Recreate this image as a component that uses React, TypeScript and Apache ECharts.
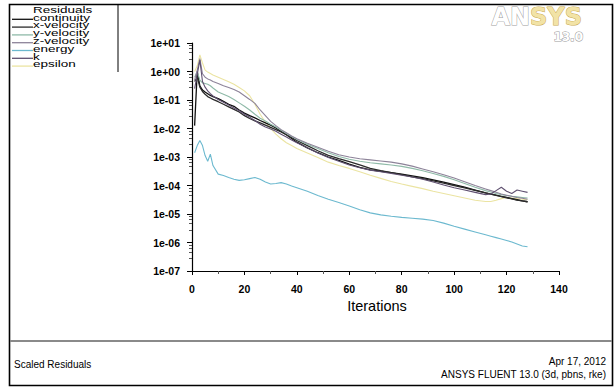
import React, { useEffect, useRef } from "react";
import * as echarts from "echarts";

// Iteration numbers at which residuals were read
const iterations = [1, 2, 3, 4, 5, 6, 7, 8, 10, 12, 14, 16, 18, 20, 22, 24, 26, 28, 30, 32, 34, 36, 38, 40, 44, 48, 52, 56, 60, 64, 68, 72, 76, 80, 84, 88, 92, 96, 100, 104, 108, 112, 114, 116, 118, 120, 122, 124, 126, 128];

// Residuals (log10 of the residual)
const continuityExp = [-1.9, 0.0, -0.5, -0.65, -0.72, -0.78, -0.84, -0.88, -0.95, -1.05, -1.15, -1.22, -1.35, -1.46, -1.55, -1.63, -1.72, -1.8, -1.88, -1.98, -2.1, -2.22, -2.35, -2.48, -2.68, -2.85, -3.0, -3.12, -3.25, -3.36, -3.45, -3.5, -3.55, -3.6, -3.66, -3.72, -3.8, -3.88, -3.97, -4.06, -4.16, -4.26, -4.3, -4.34, -4.38, -4.42, -4.46, -4.5, -4.54, -4.57];
const xVelocityExp = [-0.35, -0.2, -0.55, -0.7, -0.8, -0.88, -0.93, -0.98, -1.06, -1.15, -1.24, -1.33, -1.42, -1.55, -1.65, -1.73, -1.8, -1.88, -1.96, -2.04, -2.12, -2.22, -2.32, -2.42, -2.6, -2.78, -2.94, -3.06, -3.16, -3.28, -3.4, -3.48, -3.55, -3.62, -3.7, -3.76, -3.84, -3.92, -4.0, -4.08, -4.17, -4.26, -4.3, -4.35, -4.39, -4.43, -4.47, -4.51, -4.54, -4.57];
const yVelocityExp = [-0.2, 0.0, -0.3, -0.4, -0.42, -0.45, -0.5, -0.58, -0.72, -0.8, -0.88, -0.98, -1.1, -1.22, -1.35, -1.5, -1.64, -1.74, -1.85, -1.95, -2.06, -2.17, -2.28, -2.38, -2.55, -2.7, -2.85, -2.98, -3.08, -3.15, -3.2, -3.24, -3.28, -3.33, -3.4, -3.48, -3.58, -3.68, -3.8, -3.93, -4.06, -4.18, -4.23, -4.28, -4.32, -4.35, -4.38, -4.4, -4.42, -4.44];
const zVelocityExp = [-0.3, 0.05, 0.45, -0.08, -0.2, -0.26, -0.3, -0.35, -0.42, -0.5, -0.56, -0.63, -0.72, -0.85, -0.98, -1.12, -1.35, -1.55, -1.75, -1.9, -2.04, -2.15, -2.26, -2.36, -2.52, -2.66, -2.8, -2.92, -3.0, -3.06, -3.1, -3.14, -3.18, -3.24, -3.32, -3.42, -3.52, -3.62, -3.74, -3.87, -4.0, -4.12, -4.18, -4.24, -4.3, -4.34, -4.38, -4.42, -4.45, -4.48];
const energyExp = [-2.85, -2.6, -2.42, -2.6, -2.95, -3.15, -2.9, -3.3, -3.6, -3.65, -3.72, -3.78, -3.82, -3.8, -3.76, -3.72, -3.78, -3.88, -3.95, -3.93, -3.9, -3.95, -4.02, -4.08, -4.2, -4.35, -4.48, -4.6, -4.72, -4.85, -4.96, -5.03, -5.08, -5.12, -5.15, -5.18, -5.23, -5.32, -5.43, -5.53, -5.63, -5.73, -5.78, -5.83, -5.88, -5.93, -5.98, -6.05, -6.12, -6.15];
const kExp = [-0.6, -0.1, 0.4, -0.35, -0.55, -0.68, -0.78, -0.86, -0.98, -1.08, -1.18, -1.28, -1.38, -1.5, -1.6, -1.72, -1.85, -1.95, -2.02, -2.1, -2.2, -2.3, -2.4, -2.5, -2.68, -2.86, -3.02, -3.15, -3.28, -3.38, -3.46, -3.52, -3.58, -3.64, -3.7, -3.78, -3.88, -3.98, -4.08, -4.16, -4.24, -4.32, -4.3, -4.18, -4.06, -4.2, -4.28, -4.16, -4.2, -4.24];
const epsilonExp = [0.0, 0.2, 0.58, 0.3, 0.05, -0.02, -0.07, -0.12, -0.2, -0.28, -0.36, -0.45, -0.56, -0.68, -0.85, -1.15, -1.5, -1.78, -2.0, -2.2, -2.36, -2.5, -2.6, -2.7, -2.86, -3.02, -3.18, -3.3, -3.4, -3.52, -3.64, -3.75, -3.86, -3.95, -4.03, -4.11, -4.2, -4.28, -4.36, -4.44, -4.52, -4.56, -4.56, -4.52, -4.46, -4.42, -4.44, -4.46, -4.48, -4.5];

const seriesNames = ["continuity", "x-velocity", "y-velocity", "z-velocity", "energy", "k", "epsilon"];
const seriesExps = [continuityExp, xVelocityExp, yVelocityExp, zVelocityExp, energyExp, kExp, epsilonExp];
const seriesColors = ["#111111", "#2b2b2b", "#8fbaa8", "#8d8399", "#6cb9cf", "#5f5070", "#ebe4a2"];

const xTicks = [0, 20, 40, 60, 80, 100, 120, 140];

const FONT = "'Liberation Sans', Arial, sans-serif";
const LOGO_FONT = "'DejaVu Sans', sans-serif";

export default function App() {
  const ref = useRef<HTMLDivElement>(null);
  useEffect(() => {
    if (!ref.current) return;
    const chart = echarts.init(ref.current, null, { renderer: "svg" });

    const legendStartY = 9;
    const legendStep = 7.8;
    const legendGraphics: any[] = [
      {
        type: "text",
        x: 33,
        y: legendStartY,
        scaleY: 0.72,
        style: { text: "Residuals", fontSize: 13.5, fontFamily: FONT, fill: "#000", verticalAlign: "middle" },
      },
    ];
    seriesNames.forEach((name, i) => {
      const yy = legendStartY + legendStep * (i + 1);
      legendGraphics.push({
        type: "line",
        shape: { x1: 12, y1: yy + 2.5, x2: 33, y2: yy + 2.5 },
        style: { stroke: seriesColors[i], lineWidth: 1.3 },
      });
      legendGraphics.push({
        type: "text",
        x: 33,
        y: yy,
        scaleY: 0.72,
        style: { text: name, fontSize: 13.5, fontFamily: FONT, fill: "#000", verticalAlign: "middle" },
      });
    });

    const option: any = {
      animation: false,
      backgroundColor: "#ffffff",
      grid: { left: 192, top: 43, width: 367, height: 228, containLabel: false },
      xAxis: {
        type: "value",
        min: xTicks[0],
        max: xTicks[xTicks.length - 1],
        interval: 20,
        axisLine: { show: true, lineStyle: { color: "#000", width: 1.2 } },
        axisTick: { show: true, length: 4, lineStyle: { color: "#000" } },
        minorTick: { show: true, splitNumber: 2, length: 3, lineStyle: { color: "#555" } },
        splitLine: { show: false },
        axisLabel: { fontSize: 10.5, fontFamily: FONT, color: "#000", margin: 12, fontWeight: "bold" },
      },
      yAxis: {
        type: "log",
        logBase: 10,
        min: 1e-7,
        max: 10,
        splitNumber: 8,
        axisLine: { show: true, lineStyle: { color: "#000", width: 1.2 } },
        axisTick: { show: true, length: 5, lineStyle: { color: "#000" } },
        minorTick: { show: true, splitNumber: 5, length: 3, lineStyle: { color: "#555" } },
        splitLine: { show: false },
        axisLabel: {
          fontSize: 10.5,
          fontFamily: FONT,
          color: "#000",
          margin: 12,
          fontWeight: "bold",
          formatter: (v: number) => {
            const e = Math.round(Math.log10(v));
            const a = Math.abs(e);
            return "1e" + (e >= 0 ? "+" : "-") + (a < 10 ? "0" : "") + a;
          },
        },
      },
      series: seriesNames.map((name, i) => ({
        name,
        type: "line",
        showSymbol: false,
        symbol: "none",
        z: name === "epsilon" || name === "energy" ? 1 : 2,
        lineStyle: { color: seriesColors[i], width: i < 2 ? 1.3 : 1.1 },
        data: iterations.map((it, j) => [it, Math.pow(10, seriesExps[i][j])]),
      })),
      graphic: [
        // outer frame
        {
          type: "rect",
          shape: { x: 9.5, y: 4.5, width: 603, height: 381 },
          style: { fill: "none", stroke: "#000", lineWidth: 1.6 },
          silent: true,
        },
        // legend box right border
        {
          type: "line",
          shape: { x1: 118, y1: 5, x2: 118, y2: 72 },
          style: { stroke: "#000", lineWidth: 1 },
        },
        ...legendGraphics,
        // ANSYS logo
        {
          type: "text",
          x: 582,
          y: 5,
          style: {
            text: "{a|AN}{b|SYS}",
            align: "right",
            rich: {
              a: { fontSize: 24, fontWeight: "bold", fontFamily: LOGO_FONT, fill: "#ffffff", stroke: "#a0a0a0", lineWidth: 1 },
              b: { fontSize: 24, fontWeight: "bold", fontFamily: LOGO_FONT, fill: "#f2e3a6", stroke: "#c8a850", lineWidth: 1 },
            },
          },
        },
        {
          type: "text",
          x: 583,
          y: 31,
          style: {
            text: "13.0",
            align: "right",
            fontFamily: LOGO_FONT,
            fontSize: 12,
            fontWeight: "bold",
            fill: "#ffffff",
            stroke: "#9a9a9a",
            lineWidth: 1,
          },
        },
        // x-axis title
        {
          type: "text",
          x: 377,
          y: 306,
          style: { text: "Iterations", fontSize: 14.5, fontFamily: FONT, fill: "#000", align: "center", verticalAlign: "middle" },
        },
        // bottom separator
        {
          type: "line",
          shape: { x1: 10, y1: 341, x2: 612, y2: 341 },
          style: { stroke: "#8a8a8a", lineWidth: 2 },
        },
        {
          type: "text",
          x: 14,
          y: 364,
          style: { text: "Scaled Residuals", fontSize: 10, fontFamily: FONT, fill: "#000", verticalAlign: "middle" },
        },
        {
          type: "text",
          x: 606,
          y: 361,
          style: { text: "Apr 17, 2012", fontSize: 10, fontFamily: FONT, fill: "#000", align: "right", verticalAlign: "middle" },
        },
        {
          type: "text",
          x: 606,
          y: 374,
          style: { text: "ANSYS FLUENT 13.0 (3d, pbns, rke)", fontSize: 10, fontFamily: FONT, fill: "#000", align: "right", verticalAlign: "middle" },
        },
      ],
    };
    chart.setOption(option);
    return () => chart.dispose();
  }, []);

  return (
    <div
      ref={ref}
      style={{ position: "fixed", left: 0, top: 0, width: 616, height: 387, background: "#fff" }}
    />
  );
}
